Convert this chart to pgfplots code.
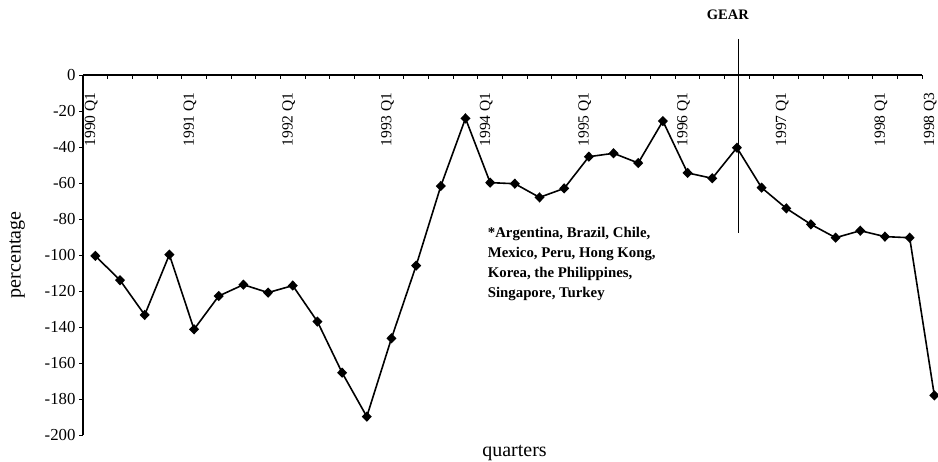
\documentclass[border=0pt]{standalone}
\usepackage{pgfplots}
\pgfplotsset{compat=1.18}
\usepackage{fontspec}
\setmainfont{Liberation Serif}

\begin{document}
\begin{tikzpicture}
\begin{axis}[
  scale only axis, width=851.34pt, height=360pt,
  xmin=-0.5, xmax=34, ymin=-200, ymax=0,
  axis x line=middle, axis y line=left,
  axis line style={-, line width=1.2pt},
  x axis line style={shorten >=12.34pt},
  clip=false,
  tick align=outside,
  major tick length=4pt, minor tick length=4pt,
  tick style={black, line width=0.9pt},
  ytick={-200,-180,...,0},
  xtick={0,4,8,12,16,20,24,28,32,34},
  xticklabels={1990 Q1,1991 Q1,1992 Q1,1993 Q1,1994 Q1,1995 Q1,1996 Q1,1997 Q1,1998 Q1,1998 Q3},
  minor xtick={-0.5,0.5,...,33.5},
  every major x tick/.append style={draw=none},
  xticklabel style={xshift=-4pt, yshift=-10pt, rotate=90, anchor=east, font=\fontsize{15.5}{18}\selectfont},
  yticklabel style={font=\fontsize{16.8}{20}\selectfont},
  /pgf/number format/assume math mode=true,
  xlabel={quarters}, ylabel={percentage},
  every axis x label/.style={at={(axis description cs:0.5069,-0.061)}, anchor=base, font=\fontsize{20}{24}\selectfont},
  every axis y label/.style={at={(axis description cs:-0.0775,0.5)}, anchor=center, rotate=90, font=\fontsize{20}{24}\selectfont},
]
\addplot[black, line width=1.6pt, mark=diamond*, mark size=4pt, mark options={solid, xscale=1.3}] table {
0 -100.5
1 -114
2 -133.3
3 -99.8
4 -141.3
5 -122.8
6 -116.5
7 -120.9
8 -117
9 -137
10 -165.4
11 -189.8
12 -146.3
13 -105.9
14 -61.7
15 -24.1
16 -59.8
17 -60.4
18 -68
19 -63
20 -45.4
21 -43.5
22 -48.9
23 -25.6
24 -54.4
25 -57.4
26 -40.4
27 -62.6
28 -74.1
29 -83
30 -90.4
31 -86.5
32 -89.8
33 -90.4
34 -178
};
% GEAR marker line
\addplot[black, line width=1.4pt, no marks] coordinates {(26.06,20) (26.06,-88)};
\node[font=\bfseries\fontsize{14.5}{17}\selectfont] at (axis cs:25.63,33.3) {GEAR};
\node[anchor=base west, inner sep=0pt, font=\bfseries\fontsize{14.8}{20}\selectfont] at (axis cs:15.9,-90.4) {*Argentina, Brazil, Chile,};
\node[anchor=base west, inner sep=0pt, font=\bfseries\fontsize{14.8}{20}\selectfont] at (axis cs:15.9,-101.5) {Mexico, Peru, Hong Kong,};
\node[anchor=base west, inner sep=0pt, font=\bfseries\fontsize{14.8}{20}\selectfont] at (axis cs:15.9,-112.6) {Korea, the Philippines,};
\node[anchor=base west, inner sep=0pt, font=\bfseries\fontsize{14.8}{20}\selectfont] at (axis cs:15.9,-123.7) {Singapore, Turkey};
\coordinate (bbbl) at (axis cs:-3.864,-215);
\coordinate (bbtr) at (axis cs:34.149,41.667);
\end{axis}
\pgfresetboundingbox
\path[use as bounding box] (bbbl) rectangle (bbtr);
\end{tikzpicture}
\end{document}
